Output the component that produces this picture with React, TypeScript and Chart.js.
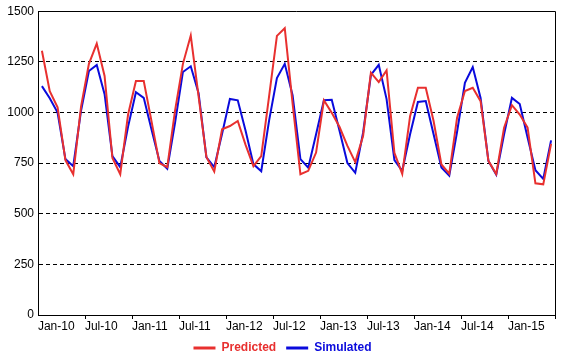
import React, { useEffect, useRef } from 'react';
import { Chart, registerables } from 'chart.js';

Chart.register(...registerables);

const months = [
  'Jan-10', 'Feb-10', 'Mar-10', 'Apr-10', 'May-10', 'Jun-10', 'Jul-10', 'Aug-10', 'Sep-10', 'Oct-10', 'Nov-10', 'Dec-10',
  'Jan-11', 'Feb-11', 'Mar-11', 'Apr-11', 'May-11', 'Jun-11', 'Jul-11', 'Aug-11', 'Sep-11', 'Oct-11', 'Nov-11', 'Dec-11',
  'Jan-12', 'Feb-12', 'Mar-12', 'Apr-12', 'May-12', 'Jun-12', 'Jul-12', 'Aug-12', 'Sep-12', 'Oct-12', 'Nov-12', 'Dec-12',
  'Jan-13', 'Feb-13', 'Mar-13', 'Apr-13', 'May-13', 'Jun-13', 'Jul-13', 'Aug-13', 'Sep-13', 'Oct-13', 'Nov-13', 'Dec-13',
  'Jan-14', 'Feb-14', 'Mar-14', 'Apr-14', 'May-14', 'Jun-14', 'Jul-14', 'Aug-14', 'Sep-14', 'Oct-14', 'Nov-14', 'Dec-14',
  'Jan-15', 'Feb-15', 'Mar-15', 'Apr-15', 'May-15', 'Jun-15',
];

const tickLabels = ['Jan-10', 'Jul-10', 'Jan-11', 'Jul-11', 'Jan-12', 'Jul-12', 'Jan-13', 'Jul-13', 'Jan-14', 'Jul-14', 'Jan-15'];

const yTickValues = [0, 250, 500, 750, 1000, 1250, 1500];

const predicted = [
  1305, 1105, 1025, 765, 695, 1030, 1240, 1340, 1180, 775, 695, 990,
  1155, 1155, 955, 750, 730, 1010, 1240, 1380, 1080, 780, 708, 917,
  933, 958, 840, 735, 784, 1080, 1378, 1416, 1045, 695, 712, 802,
  1060, 998, 928, 835, 755, 884, 1197, 1150, 1208, 800, 697, 982,
  1122, 1122, 958, 743, 698, 974, 1106, 1122, 1056, 761, 696, 925,
  1036, 990, 925, 650, 645, 845,
];

const simulated = [
  1130, 1070, 1000, 770, 735, 1010, 1205, 1235, 1090, 785, 730, 930,
  1100, 1072, 915, 760, 722, 950, 1200, 1228, 1095, 778, 730, 895,
  1067, 1060, 910, 745, 710, 960, 1170, 1240, 1085, 770, 727, 892,
  1060, 1063, 908, 750, 702, 900, 1185, 1235, 1066, 765, 712, 892,
  1052, 1056, 892, 728, 688, 905, 1146, 1224, 1072, 761, 693, 892,
  1072, 1042, 876, 715, 672, 862,
];

const RED = '#E8302F';
const BLUE = '#0A0ADC';

const plotBox = {
  id: 'plotBox',
  beforeDatasetsDraw(chart: any) {
    const { ctx, chartArea } = chart;
    const t = Math.round(chartArea.top) + 0.5;
    const r = Math.round(chartArea.right) + 0.5;
    ctx.save();
    ctx.strokeStyle = '#000';
    ctx.lineWidth = 1;
    ctx.setLineDash([]);
    ctx.beginPath();
    ctx.moveTo(chartArea.left, t);
    ctx.lineTo(r, t);
    ctx.lineTo(r, chartArea.bottom);
    ctx.stroke();
    ctx.restore();
  },
};

export default function App() {
  const ref = useRef<HTMLCanvasElement>(null);

  useEffect(() => {
    Chart.defaults.font.family = "'Liberation Sans', Arial, sans-serif";
    const xTickColor = (c: any) =>
      c.index === undefined || (c.index % 6 === 0 && c.index > 0) ? '#000' : 'rgba(0,0,0,0)';
    const chart = new Chart(ref.current as HTMLCanvasElement, {
      type: 'line',
      data: {
        labels: months,
        datasets: [
          {
            label: 'Predicted',
            data: predicted,
            borderColor: RED,
            backgroundColor: RED,
            borderWidth: 2,
            pointRadius: 0,
            tension: 0,
            fill: false,
          },
          {
            label: 'Simulated',
            data: simulated,
            borderColor: BLUE,
            backgroundColor: BLUE,
            borderWidth: 2,
            pointRadius: 0,
            tension: 0,
            fill: false,
          },
        ],
      },
      options: {
        responsive: false,
        animation: false,
        devicePixelRatio: 1,
        events: [],
        layout: { padding: { top: 8, right: 5, left: 0, bottom: 0 } },
        scales: {
          x: {
            type: 'category',
            offset: true,
            grid: {
              offset: true,
              display: true,
              drawOnChartArea: false,
              drawTicks: true,
              tickLength: 4,
              color: xTickColor,
              tickColor: xTickColor,
            },
            border: { display: true, color: '#000', width: 1 },
            ticks: {
              autoSkip: false,
              maxRotation: 0,
              minRotation: 0,
              align: 'start',
              labelOffset: -4,
              padding: 0,
              color: '#000',
              font: { size: 12 },
              callback: (_v: any, index: number) => (index % 6 === 0 ? tickLabels[index / 6] ?? '' : ''),
            },
            afterFit: (s: any) => {
              s.height = 17;
            },
          },
          y: {
            min: 0,
            max: 1500,
            afterBuildTicks: (s: any) => {
              s.ticks = yTickValues.map((v) => ({ value: v }));
            },
            grid: {
              drawTicks: false,
              color: (c: any) =>
                c.tick && (c.tick.value === 0 || c.tick.value === 1500) ? 'rgba(0,0,0,0)' : '#000',
            },
            border: { display: true, color: '#000', width: 1, dash: [4, 3] },
            ticks: {
              padding: 4,
              color: '#000',
              font: { size: 12 },
              callback: (v: any) => String(v),
            },
            afterFit: (s: any) => {
              s.width = 38;
            },
          },
          yRight: {
            position: 'right',
            display: true,
            min: 0,
            max: 1500,
            grid: { display: false, drawOnChartArea: false, drawTicks: false },
            border: { display: false },
            ticks: { display: false },
            afterFit: (s: any) => {
              s.width = 10;
            },
          },
        },
        plugins: {
          tooltip: { enabled: false },
          title: { display: false },
          legend: {
            position: 'bottom',
            labels: {
              boxWidth: 22,
              boxHeight: 3,
              padding: 10,
              font: { size: 12, weight: 'bold' },
              generateLabels: (ch: any) =>
                ch.data.datasets.map((ds: any, i: number) => ({
                  text: ds.label,
                  fillStyle: ds.borderColor,
                  strokeStyle: ds.borderColor,
                  fontColor: ds.borderColor,
                  lineWidth: 0,
                  hidden: false,
                  datasetIndex: i,
                })),
            },
          },
        },
      },
      plugins: [plotBox],
    } as any);
    return () => chart.destroy();
  }, []);

  return (
    <div style={{ position: 'absolute', left: 0, top: 0, width: 570, height: 364, background: '#fff' }}>
      <canvas ref={ref} width={570} height={364} style={{ display: 'block', width: 570, height: 364 }} />
    </div>
  );
}
